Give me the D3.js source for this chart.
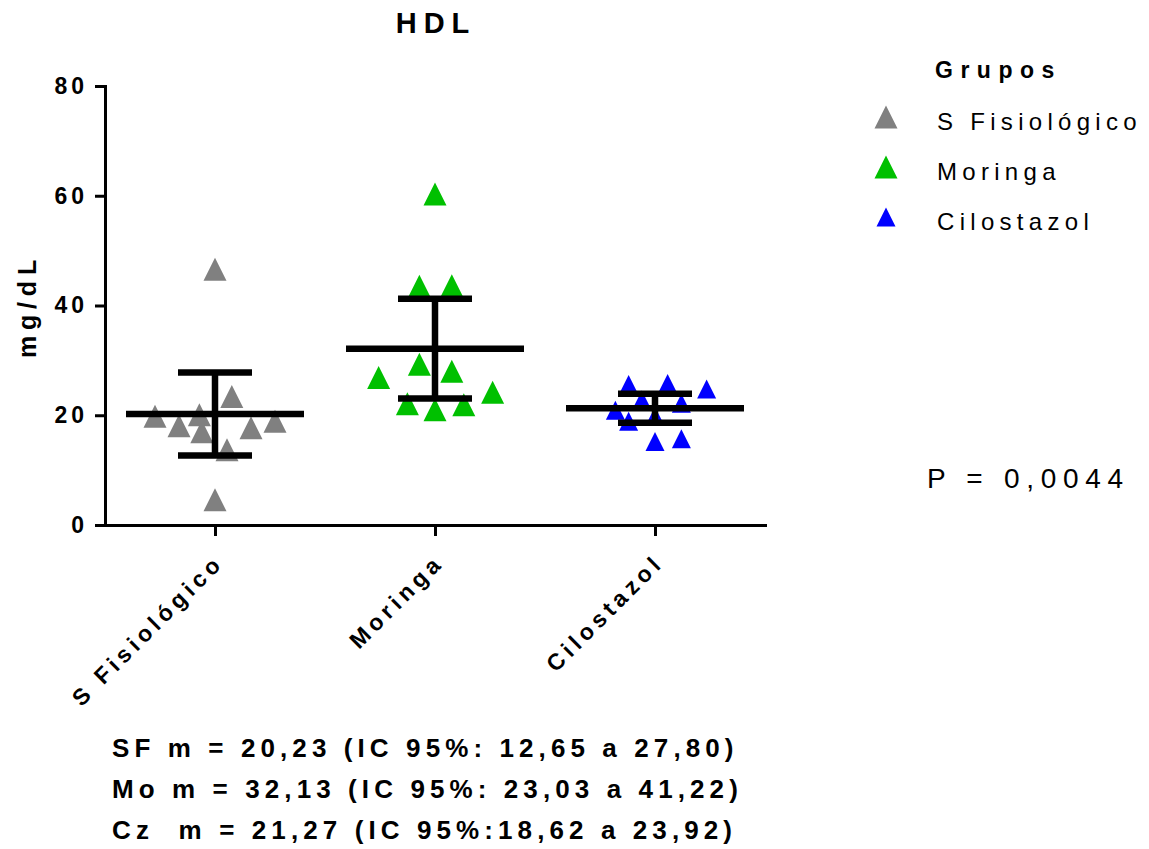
<!DOCTYPE html>
<html lang="pt">
<head>
<meta charset="UTF-8" />
<script src="https://d3js.org/d3.v7.min.js"></script>
<title>HDL</title>
<style>
  body { margin: 0; background: #fff; }
  svg { display: block; font-family: "Liberation Sans", Arial, sans-serif; }
</style>
</head>
<body>
<svg width="1149" height="849"></svg>
<script>
const groups = ["S Fisiológico", "Moringa", "Cilostazol"]
const colors = ["#808080", "#00c000", "#0000ff"]
const sfValues = [46.6, 23.4, 19.8, 18.1, 20.1, 17.0, 13.7, 17.7, 18.9, 4.6]
const moValues = [60.3, 43.5, 43.6, 29.3, 28.0, 26.9, 24.2, 22.1, 21.0, 21.9]
const czValues = [25.6, 25.8, 24.8, 22.8, 22.2, 20.9, 18.9, 19.8, 15.2, 15.7]
// horizontal slot of each point inside its column (half-marker units)
const sfSlots = [0, 1.4, -5, -3, -1.3, -1.1, 1, 3, 5, 0]
const moSlots = [0, -1.3, 1.4, -1.3, 1.4, -4.7, 4.8, -2.3, 0, 2.4]
const czSlots = [-2.2, 1.05, 4.3, -1.1, 2.2, -3.3, -2.2, 0, 0, 2.2]
const means = [20.23, 32.13, 21.27]
const ciLow = [12.65, 23.03, 18.62]
const ciHigh = [27.80, 41.22, 23.92]
const yTicks = [0, 20, 40, 60, 80]
const statLines = [
  "SF m = 20,23 (IC 95%: 12,65 a 27,80)",
  "Mo m = 32,13 (IC 95%: 23,03 a 41,22)",
  "Cz  m = 21,27 (IC 95%:18,62 a 23,92)"
]

const values = [sfValues, moValues, czValues]
const slots = [sfSlots, moSlots, czSlots]
const markerSize = [23, 23, 19]

const x = d3.scalePoint().domain(groups).range([105, 765]).padding(0.5)
const y = d3.scaleLinear().domain([0, 80]).range([525, 86])
const slot = d3.scaleLinear().domain([-1, 1]).range([-12, 12])

// triangle centred on its bounding box
const tri = (cx, cy, w) => `M${cx},${cy - w / 2}L${cx + w / 2},${cy + w / 2}L${cx - w / 2},${cy + w / 2}Z`

const svg = d3.select("svg")

// points
const pts = groups.flatMap((g, i) => values[i].map((v, j) => ({ g, i, v, s: slots[i][j] })))
svg.append("g").selectAll("path").data(pts).enter().append("path")
  .attr("d", d => tri(x(d.g) + slot(d.s), y(d.v), markerSize[d.i]))
  .attr("fill", d => colors[d.i])

// mean and 95% CI
const stats = groups.map((g, i) => ({ g, m: means[i], lo: ciLow[i], hi: ciHigh[i] }))
const eb = svg.append("g").attr("stroke", "#000").attr("stroke-width", 6.5)
eb.selectAll(".mean").data(stats).enter().append("line")
  .attr("x1", d => x(d.g) - 89).attr("x2", d => x(d.g) + 89)
  .attr("y1", d => y(d.m)).attr("y2", d => y(d.m))
eb.selectAll(".vert").data(stats).enter().append("line")
  .attr("x1", d => x(d.g)).attr("x2", d => x(d.g))
  .attr("y1", d => y(d.lo)).attr("y2", d => y(d.hi))
eb.selectAll(".capHi").data(stats).enter().append("line")
  .attr("x1", d => x(d.g) - 37).attr("x2", d => x(d.g) + 37)
  .attr("y1", d => y(d.hi)).attr("y2", d => y(d.hi))
eb.selectAll(".capLo").data(stats).enter().append("line")
  .attr("x1", d => x(d.g) - 37).attr("x2", d => x(d.g) + 37)
  .attr("y1", d => y(d.lo)).attr("y2", d => y(d.lo))

// axes
const yAxis = g => g.attr("transform", "translate(105,0)")
  .call(d3.axisLeft(y).tickValues(yTicks).tickSize(10).tickSizeOuter(0).tickPadding(7))
  .call(g => g.selectAll("line,path").attr("stroke", "#000").attr("stroke-width", 3))
  .call(g => g.select(".domain").attr("stroke-linecap", "square"))
  .call(g => g.selectAll("text").attr("fill", "#000").attr("font-family", null)
    .attr("font-size", 23).attr("font-weight", "bold").attr("letter-spacing", 4))
const xAxis = g => g.attr("transform", "translate(0,525)")
  .call(d3.axisBottom(x).tickSize(11).tickSizeOuter(0).tickFormat(""))
  .call(g => g.selectAll("line,path").attr("stroke", "#000").attr("stroke-width", 3))
  .call(g => g.select(".domain").attr("stroke-linecap", "square"))
svg.append("g").call(xAxis)
svg.append("g").call(yAxis)

svg.append("g").selectAll("text").data(groups).enter().append("text")
  .attr("transform", d => `translate(${x(d) + 10},564) rotate(-45)`)
  .attr("text-anchor", "end").attr("font-size", 23).attr("font-weight", "bold")
  .attr("letter-spacing", 4.6).text(d => d)

// titles
svg.append("text").attr("x", 436).attr("y", 33).attr("text-anchor", "middle")
  .attr("font-size", 29).attr("font-weight", "bold").attr("letter-spacing", 7).text("HDL")
svg.append("text").attr("transform", "translate(36,306) rotate(-90)").attr("text-anchor", "middle")
  .attr("font-size", 25).attr("font-weight", "bold").attr("letter-spacing", 5.8).text("mg/dL")

// legend
svg.append("text").attr("x", 935).attr("y", 78).attr("font-size", 23).attr("font-weight", "bold")
  .attr("letter-spacing", 7.5).text("Grupos")
const lg = svg.append("g").selectAll("g").data(groups).enter().append("g")
  .attr("transform", (d, i) => `translate(0,${i * 50})`)
lg.append("path").attr("d", (d, i) => tri(886, 117, markerSize[i])).attr("fill", (d, i) => colors[i])
lg.append("text").attr("x", 937).attr("y", 130).attr("font-size", 24)
  .attr("letter-spacing", 5.3).text(d => d)

svg.append("text").attr("x", 927).attr("y", 488).attr("font-size", 28)
  .attr("letter-spacing", 6.7).text("P = 0,0044")

// summary lines
svg.append("g").selectAll("text").data(statLines).enter().append("text")
  .attr("x", 112).attr("y", (d, i) => 757 + i * 41).attr("font-size", 26).attr("font-weight", "bold")
  .attr("letter-spacing", 5.1).style("white-space", "pre").text(d => d)
</script>
</body>
</html>
